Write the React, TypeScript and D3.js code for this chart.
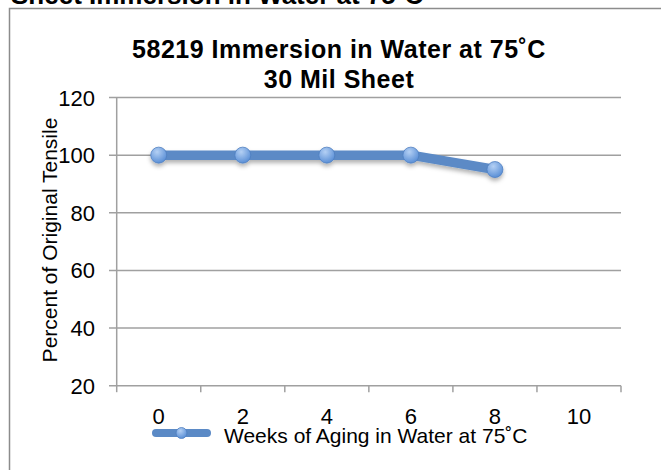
import { useEffect, useRef } from "react";
import * as d3 from "d3";

const weeks = ["0", "2", "4", "6", "8", "10"];
const tensile = [100, 100, 100, 100, 95];
const yTicks = [20, 40, 60, 80, 100, 120];

const pageTitle = "Sheet Immersion in Water at 75˚C";
const chartTitle = ["58219 Immersion in Water at 75˚C", "30 Mil Sheet"];
const yLabel = "Percent of Original Tensile";
const seriesName = "Weeks of Aging in Water at 75˚C";

function App() {
  const svgRef = useRef<SVGSVGElement | null>(null);

  useEffect(() => {
    const width = 661;
    const height = 470;
    const font = "'Liberation Sans', Arial, Helvetica, sans-serif";

    const svg = d3.select(svgRef.current).attr("width", width).attr("height", height);
    svg.selectAll("*").remove();

    svg.append("rect").attr("width", width).attr("height", height).attr("fill", "#fff");

    const defs = svg.append("defs");
    const grad = defs.append("radialGradient").attr("id", "dot").attr("cx", "40%").attr("cy", "30%").attr("r", "70%");
    grad.append("stop").attr("offset", "0%").attr("stop-color", "#b4d0f4");
    grad.append("stop").attr("offset", "100%").attr("stop-color", "#5a8fd6");
    const shadow = defs.append("filter").attr("id", "shadow").attr("x", "-20%").attr("y", "-50%").attr("width", "140%").attr("height", "250%");
    shadow.append("feDropShadow").attr("dx", 0).attr("dy", 3).attr("stdDeviation", 2).attr("flood-color", "#000").attr("flood-opacity", 0.3);

    // cut off heading above the chart box
    svg.append("text")
      .attr("x", 11).attr("y", 3.5)
      .attr("font-family", font).attr("font-size", 26).attr("font-weight", "bold")
      .text(pageTitle);

    // chart box
    svg.append("rect")
      .attr("x", 9.5).attr("y", 8.5)
      .attr("width", 700).attr("height", 500)
      .attr("fill", "#fff").attr("stroke", "#8c8c8c").attr("stroke-width", 1.5);

    const x = d3.scaleBand().domain(weeks).range([116.7, 621]);
    const y = d3.scaleLinear().domain([20, 120]).range([385.7, 97.5]);

    // gridlines
    svg.append("g").selectAll("line").data(yTicks).enter().append("line")
      .attr("x1", 109).attr("x2", 621)
      .attr("y1", (d) => y(d)).attr("y2", (d) => y(d))
      .attr("stroke", "#a0a0a0").attr("stroke-width", 1.5);

    // y axis
    svg.append("line").attr("x1", 116.7).attr("x2", 116.7).attr("y1", y(120)).attr("y2", y(20))
      .attr("stroke", "#a0a0a0").attr("stroke-width", 1.5);

    svg.append("g").selectAll("text").data(yTicks).enter().append("text")
      .attr("x", 95).attr("y", (d) => y(d) + 8)
      .attr("text-anchor", "end")
      .attr("font-family", font).attr("font-size", 22)
      .text((d) => d);

    // x ticks
    const xEdges = weeks.map((w) => x(w) as number).concat([621]);
    svg.append("g").selectAll("line").data(xEdges).enter().append("line")
      .attr("x1", (d) => d).attr("x2", (d) => d)
      .attr("y1", y(20)).attr("y2", y(20) + 6.5)
      .attr("stroke", "#a0a0a0").attr("stroke-width", 1.5);

    svg.append("g").selectAll("text").data(weeks).enter().append("text")
      .attr("x", (d) => (x(d) as number) + x.bandwidth() / 2)
      .attr("y", 424)
      .attr("text-anchor", "middle")
      .attr("font-family", font).attr("font-size", 22)
      .text((d) => d);

    // titles
    svg.append("g").selectAll("text").data(chartTitle).enter().append("text")
      .attr("x", 339).attr("y", (_, i) => 58 + i * 30)
      .attr("text-anchor", "middle")
      .attr("font-family", font).attr("font-size", 25).attr("font-weight", "bold")
      .attr("letter-spacing", 0.5)
      .text((d) => d);

    svg.append("text")
      .attr("transform", `translate(57,240) rotate(-90)`)
      .attr("text-anchor", "middle")
      .attr("font-family", font).attr("font-size", 21)
      .text(yLabel);

    // series
    const pts = tensile.map((v, i) => [(x(weeks[i]) as number) + x.bandwidth() / 2, y(v)] as [number, number]);
    const series = svg.append("g").attr("filter", "url(#shadow)");
    series.append("path")
      .attr("d", d3.line()(pts))
      .attr("fill", "none").attr("stroke", "#5b8ac6").attr("stroke-width", 9.5)
      .attr("stroke-linejoin", "round");
    series.selectAll("circle").data(pts).enter().append("circle")
      .attr("cx", (d) => d[0]).attr("cy", (d) => d[1]).attr("r", 8)
      .attr("fill", "url(#dot)").attr("stroke", "#4f7fc0").attr("stroke-width", 0.8);

    // legend
    const legend = svg.append("g").attr("transform", "translate(152,433)");
    legend.append("line").attr("x1", 4).attr("x2", 55).attr("y1", 0).attr("y2", 0)
      .attr("stroke", "#5b8ac6").attr("stroke-width", 8).attr("stroke-linecap", "round");
    legend.append("circle").attr("cx", 29.5).attr("cy", 0).attr("r", 5.5)
      .attr("fill", "url(#dot)").attr("stroke", "#4f7fc0").attr("stroke-width", 0.8);
    legend.append("text").attr("x", 72).attr("y", 10)
      .attr("font-family", font).attr("font-size", 21)
      .text(seriesName);
  }, []);

  return (
    <svg ref={svgRef} width={661} height={470} style={{ position: "absolute", left: 0, top: 0 }}></svg>
  );
}

export default App;
